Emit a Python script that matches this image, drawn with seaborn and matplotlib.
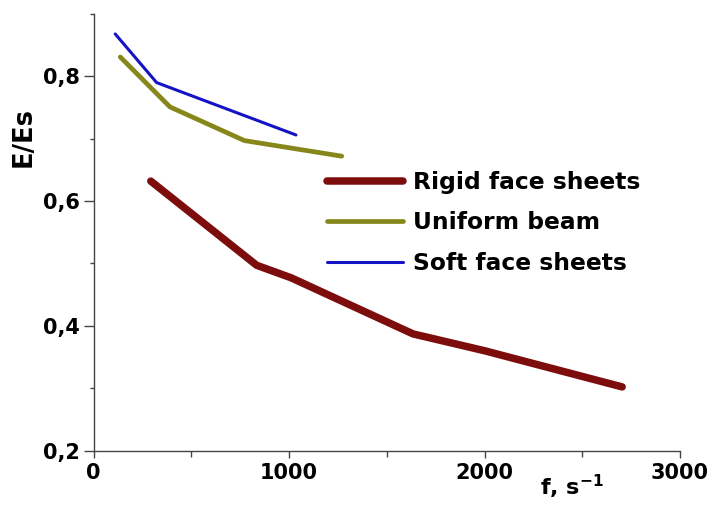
import matplotlib
matplotlib.use("Agg")
import matplotlib.pyplot as plt
from matplotlib.ticker import FixedLocator
import pandas as pd
import seaborn as sns

# Frequency (s^-1) and normalised modulus E/Es for each beam model
rigid_f = [292, 834, 1010, 1634, 2000, 2704]
rigid_e = [0.632, 0.497, 0.477, 0.387, 0.360, 0.302]

uniform_f = [136, 390, 771, 1269]
uniform_e = [0.831, 0.751, 0.697, 0.672]

soft_f = [110, 322, 1035]
soft_e = [0.868, 0.790, 0.706]

series_names = ["Rigid face sheets", "Uniform beam", "Soft face sheets"]
series_colors = ["#7d0d0d", "#86861a", "#1414c4"]
series_widths = [5.4, 3.4, 2.2]

y_ticks = [0.2, 0.4, 0.6, 0.8]
y_tick_labels = ["0,2", "0,4", "0,6", "0,8"]
y_minor = [0.3, 0.5, 0.7, 0.9]
x_ticks = [0, 1000, 2000, 3000]
x_minor = [500, 1500, 2500]

sns.set_style("white")
plt.rcParams["font.family"] = ["DejaVu Sans"]
plt.rcParams["mathtext.fontset"] = "dejavusans"

fig = plt.figure(figsize=(7.17, 5.07), dpi=100)
ax = fig.add_axes([0.1307, 0.1114, 0.8177, 0.8610])

frames = [
    pd.DataFrame({"f": rigid_f, "E": rigid_e}),
    pd.DataFrame({"f": uniform_f, "E": uniform_e}),
    pd.DataFrame({"f": soft_f, "E": soft_e}),
]
for df, name, col, lw in zip(frames, series_names, series_colors, series_widths):
    sns.lineplot(data=df, x="f", y="E", ax=ax, color=col, linewidth=lw,
                 label=name, solid_joinstyle="round", solid_capstyle="round")

ax.set_xlim(0, 3000)
ax.set_ylim(0.2, 0.9)

ax.set_yticks(y_ticks)
ax.set_yticklabels(y_tick_labels)
ax.yaxis.set_minor_locator(FixedLocator(y_minor))
ax.set_xticks(x_ticks)
ax.set_xticklabels([str(v) for v in x_ticks])
ax.xaxis.set_minor_locator(FixedLocator(x_minor))

axis_col = "#444444"
for side in ["top", "right"]:
    ax.spines[side].set_visible(False)
for side in ["left", "bottom"]:
    ax.spines[side].set_color(axis_col)
    ax.spines[side].set_linewidth(1.0)

ax.tick_params(axis="y", which="major", direction="out", length=7, width=1,
               color=axis_col, labelsize=15, pad=3, left=True, labelcolor="black")
ax.tick_params(axis="y", which="minor", direction="out", length=3, width=1,
               color=axis_col, left=True)
ax.tick_params(axis="x", which="major", direction="out", length=5, width=1,
               color=axis_col, labelsize=15, pad=4, bottom=True, labelcolor="black")
ax.tick_params(axis="x", which="minor", direction="out", length=4, width=1,
               color=axis_col, bottom=True)
for lab in ax.get_xticklabels() + ax.get_yticklabels():
    lab.set_fontweight("bold")

ax.set_ylabel("E/Es", fontsize=18.5, fontweight="bold", color="black")
ax.yaxis.set_label_coords(-0.098, 0.718)
ax.set_xlabel(r"f, s$^{\mathbf{-1}}$", fontsize=16, fontweight="bold", color="black")
ax.xaxis.set_label_coords(0.815, -0.05)

leg = ax.legend(loc="upper left", bbox_to_anchor=(0.398, 0.640), frameon=False,
                fontsize=16.8, handlelength=3.25, handletextpad=0.45,
                labelspacing=0.74, borderpad=0, borderaxespad=0)
for t in leg.get_texts():
    t.set_fontweight("bold")
    t.set_color("black")

fig.savefig("out.png", dpi=100, facecolor="white")
